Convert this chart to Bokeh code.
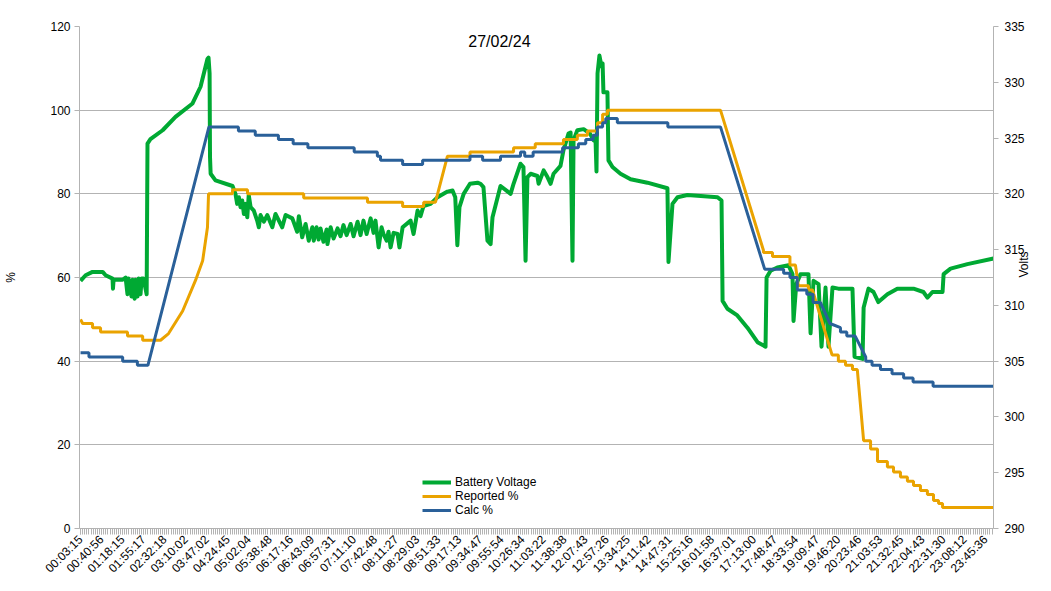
import math
from bokeh.plotting import figure
from bokeh.models import Range1d, LinearAxis, FixedTicker, Label
from bokeh.embed import file_html
from bokeh.resources import INLINE

# ---- data (x = sample index, one label every 10 samples) ----
time_labels = ["00:03:15", "00:40:56", "01:18:15", "01:55:17", "02:32:18", "03:10:02",
               "03:47:02", "04:24:45", "05:02:04", "05:38:48", "06:17:16", "06:43:09",
               "06:57:31", "07:11:10", "07:42:48", "08:11:27", "08:29:03", "08:51:33",
               "09:17:13", "09:34:47", "09:55:54", "10:26:34", "11:03:22", "11:38:38",
               "12:07:43", "12:57:26", "13:34:25", "14:11:42", "14:47:31", "15:25:16",
               "16:01:58", "16:37:01", "17:13:00", "17:48:47", "18:33:54", "19:09:47",
               "19:46:20", "20:23:46", "21:03:53", "21:32:45", "22:04:43", "22:31:30",
               "23:08:12", "23:45:36"]
label_step = 10
n_samples = 434

volt_idx = [0, 2.4, 5.7, 10.5, 11.9, 15.2, 15.4, 15.7, 20, 21.4, 22.3, 22.8, 24.2, 24.7,
            25.7, 26.1, 27.1, 27.6, 28.5, 29, 29.9, 31.4, 31.8, 33.2, 39, 45.1, 53.2, 57,
            60.3, 60.8, 61.3, 61.5, 61.8, 64.1,
            72.2, 73.6, 74.4, 75.2, 76.0, 76.8, 77.6, 78.4, 79.2, 79.9, 80.8, 82.3, 83.9,
            84.7, 85.5, 87.1, 88.7, 91.1, 92.6, 95.8, 97.4, 100.6, 102.9, 103.7, 105.3,
            106.9, 108.4, 110.1, 110.8, 112.1, 113.1, 114.0, 115.4, 116.9, 117.3, 118.8,
            120.2, 122.1, 123.5, 124.9, 126.4, 128.3, 129.7, 131.6, 133.0, 134.4, 135.9,
            137.8, 139.2, 140.1, 141.6, 143.0, 143.9, 145.4, 146.3, 147.3, 148.7, 150.6,
            151.5, 153.0, 156.8, 158.2, 160.1, 161.5, 162.9, 166.3,
            169.6, 174.3, 176.7, 178, 179, 180, 182, 185, 188.6, 190, 191.4,
            193.3, 194.8, 195.7, 199.5, 204.3, 205.7, 209, 210.4, 211.4, 212.3, 213.8, 217,
            217.6, 220, 221.8, 223.3, 224.7, 228, 229.4, 231.8, 232.8, 233.7, 234.2, 236,
            239, 242, 243.7, 244.6, 245.1, 245.6, 246.5, 247.5, 248, 248.4, 250.3, 250.8,
            252.7, 256.5, 261.3, 269.3, 278.8, 279.3, 281.2, 283.6, 288.3, 302.6, 304.5,
            305, 307.3, 312, 316.8, 321.6, 325.4, 325.9, 327.8, 331, 336.3, 338.2, 338.7,
            340, 342, 345.8, 346.8, 348.2, 350.6, 352, 353.9, 355.3, 357.2, 360, 366.7,
            367.7, 371.5, 372, 374.3, 376.7, 379, 383.3, 388, 395.7, 400.4, 402.3, 404.7,
            409.5, 410, 413.3, 421.3, 433.7]
volt_v = [312.2, 312.7, 313.0, 313.0, 312.7, 312.4, 311.5, 312.3, 312.3, 312.5, 311.0, 312.4,
          310.8, 312.3, 310.6, 312.3, 310.8, 312.4, 311.0, 312.4, 312.4, 311.0, 324.5, 324.9,
          325.7, 326.9, 328.1, 329.6, 332.1, 332.2, 330.8, 323.3, 321.8, 321.2,
          320.7, 320.0, 319.1, 319.7, 318.8, 319.4, 318.2, 319.1, 317.9, 319.9, 318.8, 318.5,
          317.6, 317.0, 318.1, 317.5, 318.1, 317.0, 318.2, 317.0, 318.1, 317.8, 316.6, 318.0,
          316.1, 317.3, 315.8, 317.0, 315.8, 317.0, 315.9, 316.9, 315.7, 316.8, 315.5, 317.0,
          316.0, 316.9, 316.2, 317.2, 316.3, 317.3, 316.2, 317.5, 316.3, 317.6, 316.4,
          317.8, 316.5, 317.6, 315.2, 317.0, 316.4, 315.8, 316.6, 315.2, 316.5, 316.4,
          315.2, 317.0, 317.6, 316.4, 318.5, 318.0, 318.9, 319.1,
          319.7, 320.2, 320.3, 319.7, 315.4, 318.8, 320.0, 320.9, 321.0, 320.9, 320.6,
          315.8, 315.5, 317.9, 320.7, 320.0, 320.9, 322.7, 322.4, 314.0, 321.5, 321.8, 321.6,
          320.9, 322.1, 321.5, 320.9, 321.8, 322.5, 323.9, 325.4, 325.5, 314.0, 324.8, 325.7,
          325.8, 325.4, 324.8, 325.1, 322.0, 330.8, 332.4, 331.4, 331.7, 329.1, 329.1, 323.0,
          322.4, 321.8, 321.3, 321.0, 320.5, 313.9, 319.1, 319.7, 319.9, 319.7, 319.4,
          310.4, 309.7, 309.1, 308.0, 306.7, 306.3, 312.5, 313.1, 313.4, 313.6, 312.8, 308.6,
          311.9, 312.8, 312.8, 307.5, 312.2, 311.9, 306.3, 311.6, 306.3, 311.6, 311.5, 311.5,
          305.4, 305.2, 309.8, 311.5, 311.2, 310.3, 311.0, 311.5, 311.5, 311.2, 310.7, 311.2,
          311.2, 312.8, 313.3, 313.7, 314.2]

rep_idx = [0, 1, 5.7, 5.7, 9.5, 9.5, 22.3, 22.3, 29.5, 29.5, 38, 41.8, 48.5, 54.6, 58, 60.3,
           60.8, 72.2, 72.2, 79.3, 79.3, 106, 106, 136.3, 136.3, 153, 153, 163, 163, 168.6,
           174.3, 185, 185, 205.7, 205.7, 216, 216, 229.4, 229.4, 236, 236, 240.8, 240.8,
           245.6, 245.6, 248, 248, 250.3, 250.3, 304, 324.4, 324.4, 328.7, 328.7, 337, 337,
           339.6, 341, 345.8, 345.8, 347.7, 357, 360, 360, 363.4, 363.4, 366.7, 366.7, 369,
           372, 375.3, 375.3, 378.6, 378.6, 383.3, 383.3, 386.2, 386.2, 389.5, 389.5, 392.8,
           392.8, 395.7, 395.7, 399, 399, 402.3, 402.3, 405.2, 405.2, 407.6, 407.6, 409.5,
           409.5, 433.7]
rep_pct = [50, 49, 49, 48, 48, 47, 47, 46, 46, 45, 45, 46.6, 52, 59.3, 64, 72,
           80, 80, 81, 81, 80, 80, 79, 79, 78, 78, 77, 77, 78, 78,
           89, 89, 90, 90, 91, 91, 92, 92, 93, 93, 94, 94, 95,
           95, 97, 97, 99, 99, 100, 100, 66.5, 66, 66, 65, 65, 63,
           63, 58, 58, 57, 57, 41.5, 41.5, 40, 40, 39, 39, 38, 38,
           21, 21, 19, 19, 16, 16, 14.7, 14.7, 13.5, 13.5, 12.3, 12.3,
           11.3, 11.3, 10.3, 10.3, 9.1, 9.1, 8.1, 8.1, 6.7, 6.7, 6, 6,
           5, 5]

calc_idx = [0, 4, 4, 20, 20, 27, 27, 32, 61, 75, 75, 83, 83, 94, 94, 101, 101, 108, 108, 130,
            130, 141, 141, 142.5, 142.5, 153, 153, 162.5, 162.5, 185, 185, 191, 191, 199.5,
            199.5, 209, 209, 211, 211, 215, 215, 229, 229, 236.5, 236.5, 240, 240, 243.5,
            243.5, 245.5, 245.5, 248, 248, 249.5, 249.5, 255, 255, 279, 279, 304, 325, 334,
            334, 337, 337, 340.5, 340.5, 345, 345, 348, 348, 351.5, 356, 361, 361, 364, 364,
            368, 373, 373, 376, 376, 380, 380, 385.5, 385.5, 391, 391, 395.5, 395.5, 405,
            405, 433.7]
calc_pct = [42, 42, 41, 41, 40, 40, 39, 39, 96, 96, 95, 95, 94, 94, 93, 93, 92, 92, 91, 91,
            90, 90, 89, 89, 88, 88, 87, 87, 88, 88, 89, 89, 88, 88,
            89, 89, 90, 90, 89, 89, 90, 90, 91, 91, 92, 92, 93, 93,
            94, 94, 96, 96, 97, 97, 98, 98, 97, 97, 96, 96, 62, 62,
            61, 61, 60, 60, 57, 57, 56, 56, 54, 54, 49, 48, 47, 47, 46,
            46, 41, 40, 40, 39, 39, 38, 38, 37, 37, 36, 36, 35, 35,
            34, 34]

pct_ticks = [0, 20, 40, 60, 80, 100, 120]
volt_ticks = [290, 295, 300, 305, 310, 315, 320, 325, 330, 335]

GREEN = "#00a933"
ORANGE = "#eaa300"
BLUE = "#2a6099"
GREY = "#b3b3b3"
FONT = "Liberation Sans"

p = figure(width=1051, height=591, output_backend="svg", toolbar_location=None,
           x_range=Range1d(-0.5, n_samples - 0.3), y_range=Range1d(pct_ticks[0], pct_ticks[-1]),
           min_border_left=79, min_border_right=58, min_border_top=26, min_border_bottom=63)
p.outline_line_color = None
p.background_fill_color = "white"
p.border_fill_color = "white"
p.extra_y_ranges = {"volts": Range1d(volt_ticks[0], volt_ticks[-1])}

# x axis
xa = p.xaxis[0]
major = [i * label_step for i in range(len(time_labels))]
xa.ticker = FixedTicker(ticks=major, minor_ticks=list(range(0, n_samples)))
xa.major_label_overrides = {t: lab for t, lab in zip(major, time_labels)}
xa.major_label_orientation = math.pi / 4
xa.major_label_text_font = FONT
xa.major_label_text_font_size = "12px"
xa.major_label_text_color = "black"
xa.axis_line_color = GREY
xa.major_tick_line_color = GREY
xa.minor_tick_line_color = GREY
xa.major_tick_in = 0
xa.major_tick_out = 6
xa.minor_tick_in = 0
xa.minor_tick_out = 6
xa.major_label_standoff = 3
p.xgrid.visible = False

# left axis (ticks)
ya = p.yaxis[0]
ya.ticker = FixedTicker(ticks=pct_ticks)
ya.major_label_text_font = FONT
ya.major_label_text_font_size = "12px"
ya.major_label_text_color = "black"
ya.axis_line_color = GREY
ya.major_tick_line_color = GREY
ya.major_tick_in = 0
ya.major_tick_out = 5
ya.major_label_standoff = 4
ya.minor_tick_line_color = None
p.ygrid.grid_line_color = GREY
p.ygrid.ticker = FixedTicker(ticks=pct_ticks)


def title_axis(text, range_name, standoff):
    ax = LinearAxis(y_range_name=range_name, ticker=FixedTicker(ticks=[]))
    ax.axis_line_color = None
    ax.major_tick_line_color = None
    ax.minor_tick_line_color = None
    ax.major_label_text_font_size = "0px"
    ax.major_label_standoff = 0
    ax.major_tick_out = 0
    ax.major_tick_in = 0
    ax.axis_label = text
    ax.axis_label_text_font = FONT
    ax.axis_label_text_font_size = "12px"
    ax.axis_label_text_font_style = "normal"
    ax.axis_label_text_color = "black"
    ax.axis_label_standoff = standoff
    return ax


# left axis title "%"
p.add_layout(title_axis("%", "default", 30), "left")

# right axis (ticks)
ra = LinearAxis(y_range_name="volts", ticker=FixedTicker(ticks=volt_ticks))
ra.major_label_text_font = FONT
ra.major_label_text_font_size = "12px"
ra.major_label_text_color = "black"
ra.axis_line_color = GREY
ra.major_tick_line_color = GREY
ra.major_tick_in = 0
ra.major_tick_out = 5
ra.major_label_standoff = 6
ra.minor_tick_line_color = None
p.add_layout(ra, "right")

volt_title = title_axis("Volts", "volts", -4)
try:
    volt_title.axis_label_orientation = math.pi / 2
except Exception:
    pass
p.add_layout(volt_title, "right")

# series
p.line(volt_idx, volt_v, y_range_name="volts", line_color=GREEN, line_width=4,
       line_join="round", legend_label="Battery Voltage")
p.line(rep_idx, rep_pct, line_color=ORANGE, line_width=3, legend_label="Reported %")
p.line(calc_idx, calc_pct, line_color=BLUE, line_width=3, legend_label="Calc %")

# chart title inside the plot area
p.add_layout(Label(x=199, y=116.5, text="27/02/24", text_align="center",
                   text_baseline="middle", text_font=FONT, text_font_size="16px",
                   text_color="black"))

lg = p.legend[0]
lg.location = (343, 11)
lg.border_line_color = None
lg.background_fill_alpha = 0
lg.padding = 0
lg.margin = 0
lg.spacing = 0
lg.glyph_width = 29
lg.glyph_height = 14
lg.label_height = 14
lg.label_standoff = 4
lg.label_text_font = FONT
lg.label_text_font_size = "12px"
lg.label_text_color = "black"

open("out.html", "w").write(file_html(p, INLINE))
